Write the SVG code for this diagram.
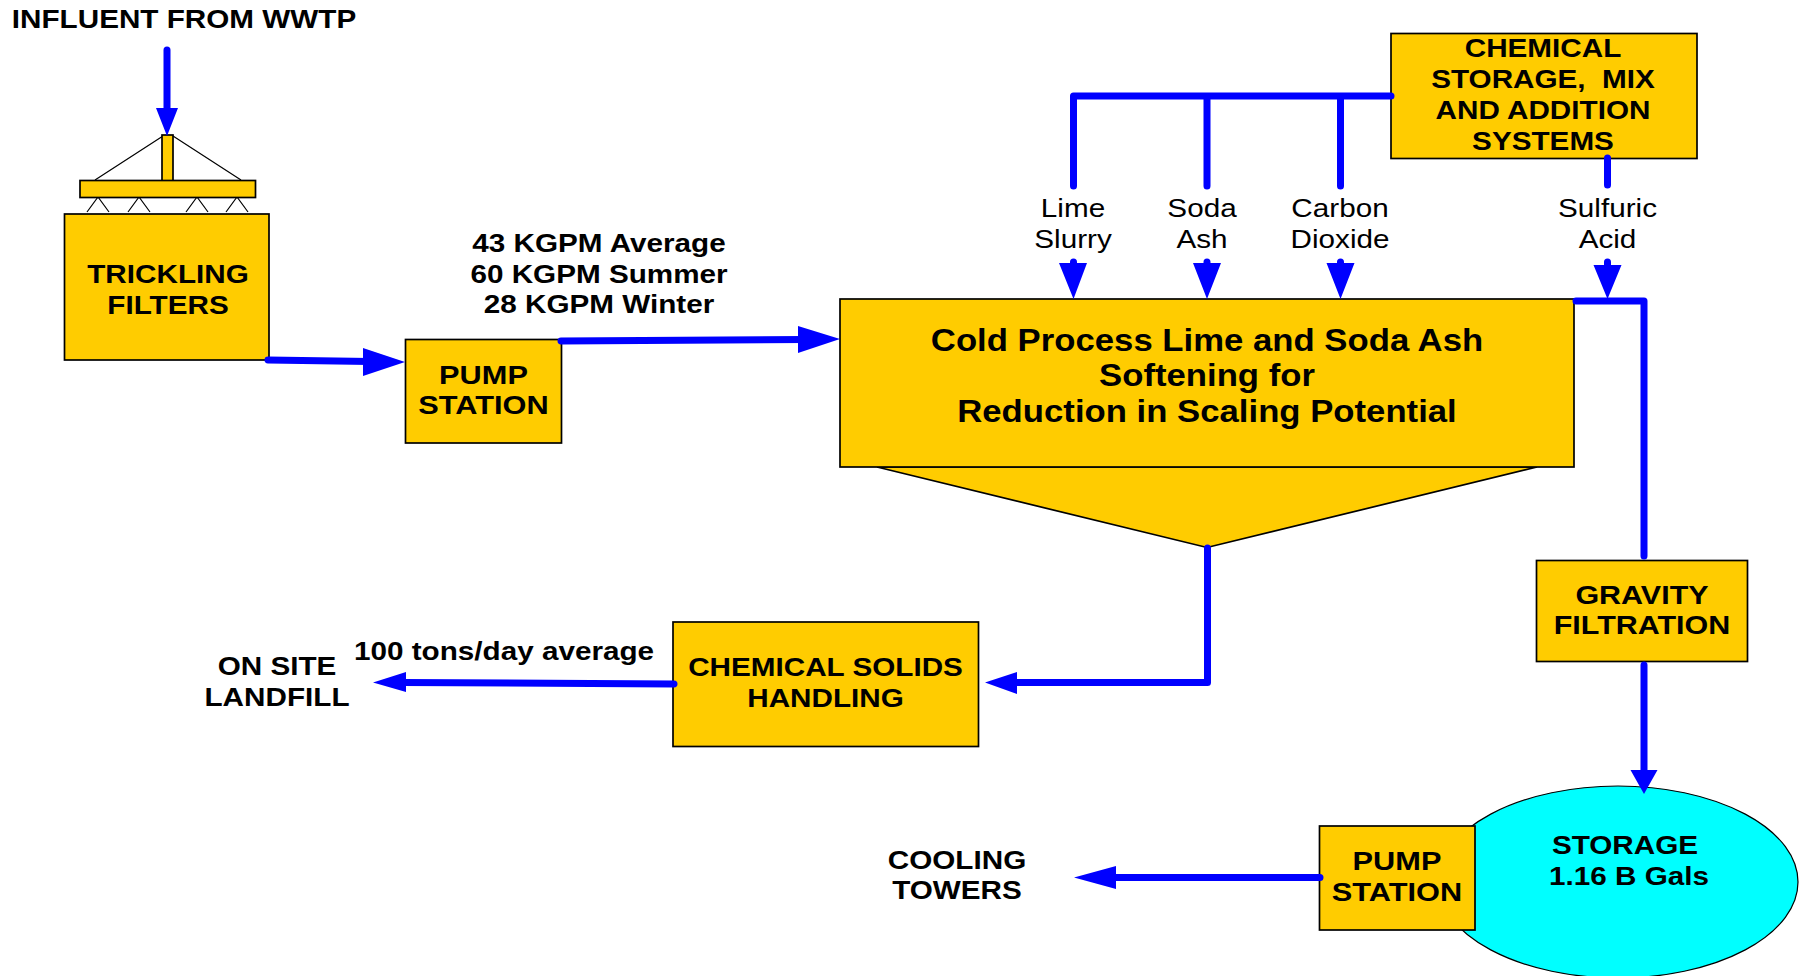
<svg xmlns="http://www.w3.org/2000/svg" width="1804" height="976" viewBox="0 0 1804 976">
<style>
.b{fill:#fc0;stroke:#000;stroke-width:1.700}
.t{font-family:"Liberation Sans",Arial,sans-serif;font-size:26.500px;font-weight:bold;fill:#000;text-anchor:middle;white-space:pre}
.r{font-family:"Liberation Sans",Arial,sans-serif;font-size:26.500px;fill:#000;text-anchor:middle}
.big{font-size:31px}
.c{fill:none;stroke:#00f;stroke-width:7;stroke-linecap:round;stroke-linejoin:round}
.h{fill:#00f;stroke:none}
.l{fill:none;stroke:#000;stroke-width:1.200}
</style>
<rect width="1804" height="976" fill="#fff"/>
<g id="storage"><ellipse cx="1618" cy="882" rx="180" ry="96" fill="#0ff" stroke="#000" stroke-width="1.200"/>
<text class="t" transform="matrix(1.12 0 0 1 1625 0)"><tspan x="0" y="854">STORAGE</tspan></text>
<text class="t" transform="matrix(1.12 0 0 1 1629 0)"><tspan x="0" y="885">1.16 B Gals</tspan></text></g>
<g id="trickling-filters">
<path class="l" d="M163 136L95 180M173 136L241 180M87 212L98 197L109 212M128 212L139 197L150 212M186 212L197 197L208 212M226 212L237 197L248 212"/>
<rect class="b" x="162" y="135" width="11" height="46"/>
<rect class="b" x="80" y="180.500" width="175.500" height="17"/>
<rect class="b" x="64.500" y="214" width="204.500" height="146"/>
<text class="t" transform="matrix(1.12 0 0 1 168 0)"><tspan x="0" y="283">TRICKLING</tspan><tspan x="0" y="314">FILTERS</tspan></text></g>
<g id="pump-station-1"><rect class="b" x="405.500" y="339.500" width="156" height="103.500"/>
<text class="t" transform="matrix(1.16 0 0 1 483.500 0)"><tspan x="0" y="384">PUMP</tspan><tspan x="0" y="414">STATION</tspan></text></g>
<g id="softening"><path class="b" d="M877 467L1207 547.500L1537 467Z"/><rect class="b" x="840" y="299" width="734" height="168"/>
<text class="t big" transform="matrix(1.12 0 0 1 1207 0)"><tspan x="0" y="351">Cold Process Lime and Soda Ash</tspan><tspan x="0" y="386">Softening for</tspan><tspan x="0" y="422">Reduction in Scaling Potential</tspan></text></g>
<g id="chemical-storage"><rect class="b" x="1391" y="33.500" width="306" height="125"/>
<text class="t" transform="matrix(1.12 0 0 1 1543 0)"><tspan x="0" y="57">CHEMICAL</tspan><tspan x="0" y="88">STORAGE,  MIX</tspan><tspan x="0" y="119">AND ADDITION</tspan><tspan x="0" y="150">SYSTEMS</tspan></text></g>
<g id="gravity-filtration"><rect class="b" x="1536.500" y="560.500" width="211" height="101"/>
<text class="t" transform="matrix(1.15 0 0 1 1642 0)"><tspan x="0" y="604">GRAVITY</tspan><tspan x="0" y="634">FILTRATION</tspan></text></g>
<g id="chemical-solids"><rect class="b" x="673" y="622" width="305.500" height="124.500"/>
<text class="t" transform="matrix(1.12 0 0 1 825.500 0)"><tspan x="0" y="676">CHEMICAL SOLIDS</tspan><tspan x="0" y="707">HANDLING</tspan></text></g>
<g id="pump-station-2"><rect class="b" x="1319.500" y="826" width="155.500" height="104"/>
<text class="t" transform="matrix(1.16 0 0 1 1397 0)"><tspan x="0" y="870">PUMP</tspan><tspan x="0" y="901">STATION</tspan></text></g>
<g id="connectors">
<path class="c" d="M167 50V110M268 360L370 361.500M561 341L805 339.500M1391 96H1073.500V186M1207 96V186M1340.500 96V186M1607.500 158V185M1073.500 262V268M1207 262V268M1340.500 262V268M1607.500 262V268M1576 301H1644V556M1644 665V772M1207.500 548V682.500H1012M674 684L402 682.500M1320 877.500H1112"/>
<path class="h" d="M156 108H178L167 136ZM363 348L405 362L363 376ZM798 326L840 339L798 353ZM1059 263H1087L1073.500 299ZM1193 263H1221L1207 299ZM1326.500 263H1354.500L1340.500 299ZM1593.500 265H1621.500L1607.500 299ZM1630.500 770H1657.500L1644 794ZM1017 672V694L985 682.500ZM406 672V692L373 682.500ZM1116 866V889L1074 877.500Z"/>
</g>
<g id="labels">
<text class="t" transform="matrix(1.12 0 0 1 184 0)"><tspan x="0" y="28">INFLUENT FROM WWTP</tspan></text>
<text class="t" transform="matrix(1.12 0 0 1 599 0)"><tspan x="0" y="252">43 KGPM Average</tspan><tspan x="0" y="283">60 KGPM Summer</tspan><tspan x="0" y="313">28 KGPM Winter</tspan></text>
<text class="r" transform="matrix(1.12 0 0 1 1073 0)"><tspan x="0" y="217">Lime</tspan><tspan x="0" y="248">Slurry</tspan></text>
<text class="r" transform="matrix(1.12 0 0 1 1202 0)"><tspan x="0" y="217">Soda</tspan><tspan x="0" y="248">Ash</tspan></text>
<text class="r" transform="matrix(1.12 0 0 1 1340 0)"><tspan x="0" y="217">Carbon</tspan><tspan x="0" y="248">Dioxide</tspan></text>
<text class="r" transform="matrix(1.12 0 0 1 1607.500 0)"><tspan x="0" y="217">Sulfuric</tspan><tspan x="0" y="248">Acid</tspan></text>
<text class="t" transform="matrix(1.12 0 0 1 504 0)"><tspan x="0" y="660">100 tons/day average</tspan></text>
<text class="t" transform="matrix(1.12 0 0 1 277 0)"><tspan x="0" y="675">ON SITE</tspan><tspan x="0" y="706">LANDFILL</tspan></text>
<text class="t" transform="matrix(1.12 0 0 1 957 0)"><tspan x="0" y="869">COOLING</tspan><tspan x="0" y="899">TOWERS</tspan></text>
</g>
</svg>
